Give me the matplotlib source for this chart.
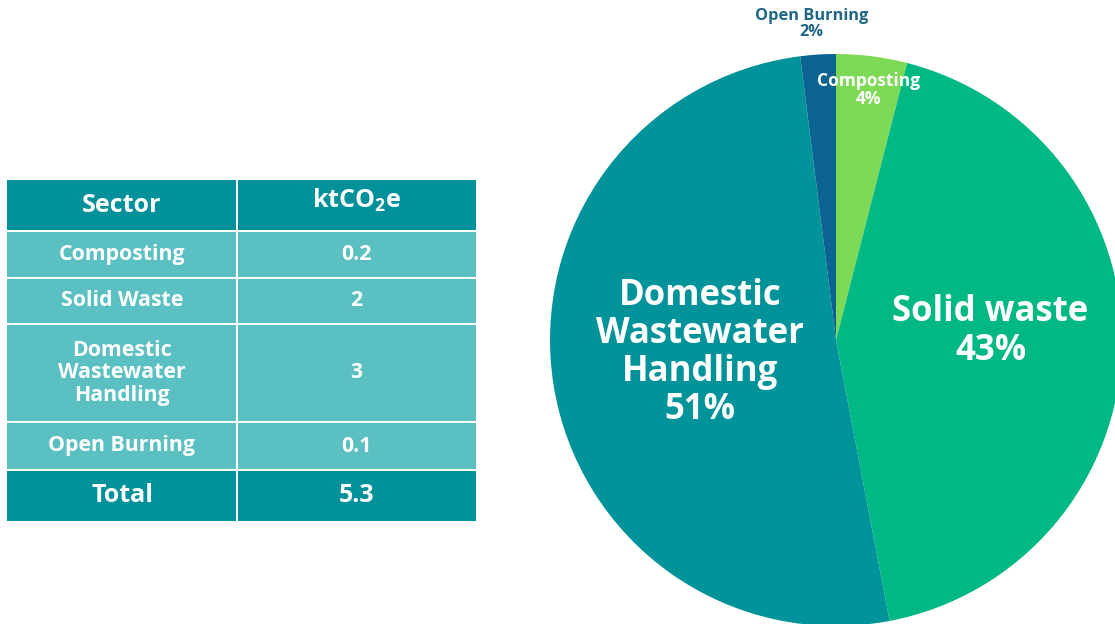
import matplotlib
matplotlib.use("Agg")
import matplotlib.pyplot as plt
from matplotlib.patches import Rectangle

plt.rcParams['font.family'] = ['Open Sans', 'DejaVu Sans']
plt.rcParams['mathtext.fontset'] = 'custom'
plt.rcParams['mathtext.rm'] = 'Open Sans'
plt.rcParams['mathtext.bf'] = 'Open Sans:bold'

# table data
sectors = ['Composting', 'Solid Waste', 'Domestic\nWastewater\nHandling', 'Open Burning']
values = ['0.2', '2', '3', '0.1']
total = '5.3'

# pie data (clockwise from top)
pie_labels = ['Composting', 'Solid waste', 'Domestic\nWastewater\nHandling', 'Open Burning']
pie_pct = [4, 43, 51, 2]
pie_colors = ['#7ed957', '#00b884', '#00939a', '#0b6391']

W, H = 1115, 624
fig = plt.figure(figsize=(W / 100, H / 100), dpi=100)

# ---- table, drawn in pixel coords
tab = fig.add_axes([0, 0, 1, 1])
tab.set_xlim(0, W)
tab.set_ylim(H, 0)
tab.axis('off')

header_col = '#00919a'
row_col = '#5bc0c2'
x0, xm, x1 = 7, 237, 476
row_edges = [(180, 230), (232, 277), (279, 323), (325, 421), (423, 469), (471, 521)]

cells = [('Sector', 'ktCO$_\\mathbf{2}$e')] + list(zip(sectors, values)) + [('Total', total)]
for i, ((ya, yb), (left, right)) in enumerate(zip(row_edges, cells)):
    first_last = i == 0 or i == len(cells) - 1
    col = header_col if first_last else row_col
    fs = 18 if first_last else 15.3
    tab.add_patch(Rectangle((x0, ya), xm - 1 - x0, yb - ya, color=col, lw=0))
    tab.add_patch(Rectangle((xm + 1, ya), x1 - xm - 1, yb - ya, color=col, lw=0))
    yc = (ya + yb) / 2
    tab.text((x0 + xm) / 2, yc, left, ha='center', va='center', color='white',
             fontsize=fs, fontweight='bold', linespacing=1.1)
    tab.text((xm + x1) / 2, yc - (5 if i == 0 else 0), right, ha='center', va='center',
             color='white', fontsize=fs, fontweight='bold')

# ---- pie
cx, cy, r = 836, 340, 286
ax = fig.add_axes([(cx - r) / W, (H - cy - r) / H, 2 * r / W, 2 * r / H])
ax.pie(pie_pct, colors=pie_colors, startangle=90, counterclock=False,
       wedgeprops=dict(linewidth=0))
ax.set_xlim(-1, 1)
ax.set_ylim(-1, 1)
ax.set_aspect('equal')
ax.axis('off')

big = dict(ha='center', va='center', color='white', fontsize=25, fontweight='bold',
           linespacing=1.08)
ax.text(-0.476, -0.045, f'{pie_labels[2]}\n{pie_pct[2]}%', **big)
ax.text(0.54, 0.03, f'{pie_labels[1]}\n{pie_pct[1]}%', **big)
ax.text(0.115, 0.875, f'{pie_labels[0]}\n{pie_pct[0]}%', ha='center', va='center',
        color='white', fontsize=12.5, fontweight='bold', linespacing=1.0)
ax.text(-0.085, 1.105, f'{pie_labels[3]}\n{pie_pct[3]}%', ha='center', va='center',
        color='#1f6785', fontsize=11.8, fontweight='bold', linespacing=0.95)

fig.savefig('out.png', dpi=100)
